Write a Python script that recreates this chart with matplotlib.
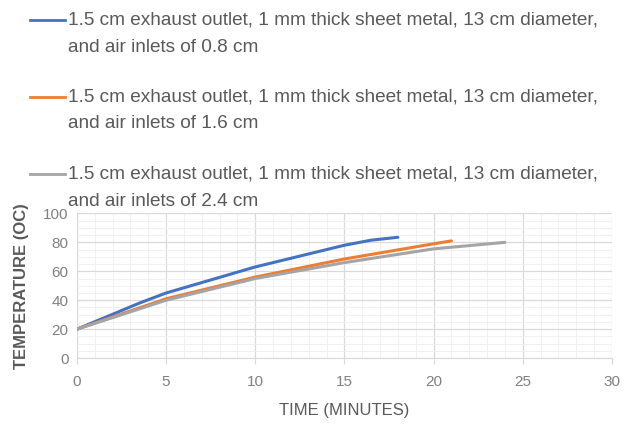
import matplotlib.pyplot as plt
from matplotlib.lines import Line2D
from matplotlib.ticker import MultipleLocator

# data
time_08 = [0, 3.5, 5, 10, 15, 16.5, 18]
temp_08 = [20, 38, 45, 63, 78, 81.5, 83.5]
time_16 = [0, 5, 10, 15, 20, 21]
temp_16 = [20, 41, 56, 68.5, 79, 81]
time_24 = [0, 5, 10, 15, 20, 24]
temp_24 = [20, 40, 55, 66, 75.5, 80]

labels = [
    ("1.5 cm exhaust outlet, 1 mm thick sheet metal, 13 cm diameter,", "and air inlets of 0.8 cm"),
    ("1.5 cm exhaust outlet, 1 mm thick sheet metal, 13 cm diameter,", "and air inlets of 1.6 cm"),
    ("1.5 cm exhaust outlet, 1 mm thick sheet metal, 13 cm diameter,", "and air inlets of 2.4 cm"),
]
colors = ["#4472C4", "#ED7D31", "#A5A5A5"]

plt.rcParams["font.family"] = ["Liberation Sans", "DejaVu Sans"]
txt = "#595959"

W, H = 625, 432
fig = plt.figure(figsize=(W / 100, H / 100), dpi=100)
ax = fig.add_axes([0.123, 0.171, 0.856, 0.335])

lines = []
for t, v, c in zip([time_08, time_16, time_24], [temp_08, temp_16, temp_24], colors):
    ln, = ax.plot(t, v, color=c, linewidth=2.2, solid_capstyle="round", solid_joinstyle="round")
    lines.append(ln)

ax.set_xlim(0, 30)
ax.set_ylim(0, 100)
ax.xaxis.set_major_locator(MultipleLocator(5))
ax.xaxis.set_minor_locator(MultipleLocator(1))
ax.yaxis.set_major_locator(MultipleLocator(20))
ax.yaxis.set_minor_locator(MultipleLocator(5))
ax.grid(which="major", color="#D9D9D9", linewidth=0.9)
ax.grid(which="minor", color="#EFEFEF", linewidth=0.6)
ax.set_axisbelow(True)
for s in ["top", "right", "left"]:
    ax.spines[s].set_visible(False)
ax.spines["bottom"].set_color("#D9D9D9")
ax.tick_params(which="major", axis="x", length=4, color="#D9D9D9", labelcolor="#808080",
               labelsize=11, pad=8)
ax.tick_params(which="major", axis="y", length=0, labelcolor="#808080", labelsize=11, pad=6)
ax.tick_params(which="minor", length=0)

ax.set_xlabel("TIME (MINUTES)", color=txt, fontsize=12, labelpad=10)
ax.set_ylabel("TEMPERATURE (OC)", color=txt, fontsize=12, fontweight="bold", labelpad=10)

# legend drawn by hand: handle sits on the first line of each wrapped label
entry_y = [20, 97, 174]
for ln, (first, second), y in zip(lines, labels, entry_y):
    fig.add_artist(Line2D([30 / W, 65 / W], [1 - y / H, 1 - y / H], transform=fig.transFigure,
                          color=ln.get_color(), linewidth=2))
    fig.text(68 / W, 1 - y / H, first, fontsize=13.7, color=txt, va="center", ha="left")
    fig.text(68 / W, 1 - (y + 27) / H, second, fontsize=13.7, color=txt, va="center", ha="left")

fig.savefig("out.png", dpi=100)
